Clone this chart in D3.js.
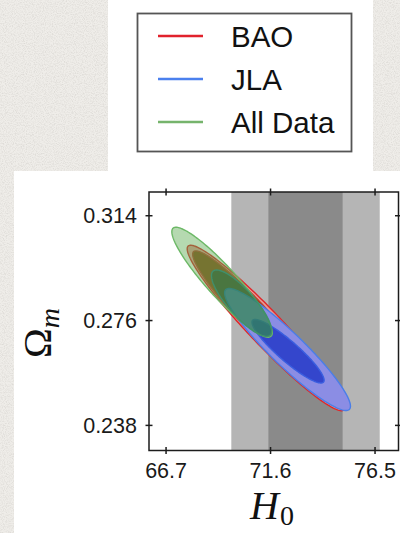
<!DOCTYPE html>
<html>
<head>
<meta charset="utf-8">
<script src="https://cdn.jsdelivr.net/npm/d3@7"></script>
<style>
  html, body { margin: 0; padding: 0; background: #eeece8; }
  svg { display: block; }
</style>
</head>
<body>
<svg id="fig" width="400" height="533"></svg>
<script>
// ---- data -------------------------------------------------------------
// Local H0 measurement drawn as vertical 1σ / 2σ bands
const h0Mean = 73.24;
const h0Sigma = 1.74;

const xTicks = [66.7, 71.6, 76.5];
const yTicks = [0.238, 0.276, 0.314];

const datasets = ["BAO", "JLA", "All Data"];

// Confidence contours in the (H0, Ωm) plane, listed in drawing order.
// Each is an ellipse given by its centre, half-extent along each axis and correlation.
const contourSet   = ["BAO", "BAO", "JLA", "JLA", "All Data", "All Data"];
const contourLevel = ["2σ", "1σ", "2σ", "1σ", "2σ", "1σ"];
const centreH0 = [71.389, 70.718, 72.397, 72.420, 69.326, 70.240];
const centreOm = [0.27331, 0.2785, 0.26551, 0.26489, 0.2899, 0.2823];
const spreadH0 = [3.698, 2.770, 2.950, 1.691, 2.355, 1.412];
const spreadOm = [0.03000, 0.02276, 0.02211, 0.01152, 0.01993, 0.01203];
const corr     = [-0.9566, -0.9467, -0.9290, -0.9118, -0.9179, -0.8298];

// ---- styles -----------------------------------------------------------
const lineColour = { "BAO": "#e1222c", "JLA": "#4b80ee", "All Data": "#76b46c" };
const fillStyle = {
  "BAO":      { "2σ": "#e79b96", "1σ": "#8c4818" },
  "JLA":      { "2σ": "#8b8de4", "1σ": "#3446cc" },
  "All Data": { "2σ": "rgba(90,170,80,0.45)", "1σ": "rgba(30,120,80,0.5)" }
};
const strokeStyle = {
  "BAO":      { "2σ": "#e0262a", "1σ": "#b8402a" },
  "JLA":      { "2σ": "#4a7ee8", "1σ": "#3a5ee0" },
  "All Data": { "2σ": "#6cb866", "1σ": "#3f8f6c" }
};

// ---- canvas -----------------------------------------------------------
const svg = d3.select("#fig");
const defs = svg.append("defs");

// paper grain for the page background
const grain = defs.append("filter").attr("id", "grain")
  .attr("x", 0).attr("y", 0).attr("width", "100%").attr("height", "100%");
grain.append("feTurbulence").attr("type", "fractalNoise")
  .attr("baseFrequency", 0.9).attr("numOctaves", 3).attr("seed", 7);
grain.append("feColorMatrix").attr("type", "matrix")
  .attr("values", "0 0 0 0 0.55  0 0 0 0 0.53  0 0 0 0 0.50  0.9 0 0 0 -0.36");

svg.append("rect").attr("width", 400).attr("height", 533).attr("fill", "#efede9");
svg.append("rect").attr("width", 400).attr("height", 533).attr("filter", "url(#grain)");

// white sheet behind the legend and the figure
svg.append("path")
  .attr("d", "M108,0 H373 V171 H400 V533 H14 V171 H108 Z")
  .attr("fill", "#ffffff");

// ---- legend -----------------------------------------------------------
const legend = svg.append("g");
legend.append("rect")
  .attr("x", 137.5).attr("y", 13.5).attr("width", 214).attr("height", 138)
  .attr("fill", "#ffffff").attr("stroke", "#555555").attr("stroke-width", 1.8);

const legendY = d3.scalePoint().domain(datasets).range([36, 122]);
const items = legend.selectAll("g.item").data(datasets).join("g")
  .attr("class", "item")
  .attr("transform", d => `translate(0,${legendY(d)})`);
items.append("line")
  .attr("x1", 158).attr("x2", 203)
  .attr("stroke", d => lineColour[d]).attr("stroke-width", 2.6);
items.append("text")
  .attr("x", 231).attr("y", 11)
  .attr("font-family", "'Liberation Sans', Arial, sans-serif")
  .attr("font-size", 29.5).attr("fill", "#111")
  .text(d => d);

// ---- plot -------------------------------------------------------------
const x0 = 149, x1 = 398.5, y0 = 192, y1 = 450.5;
const x = d3.scaleLinear().domain([65.90, 77.60]).range([x0, x1]);
const y = d3.scaleLinear().domain([0.2289, 0.3226]).range([y1, y0]);

const plot = svg.append("g");
defs.append("clipPath").attr("id", "plotclip")
  .append("rect").attr("x", x0).attr("y", y0).attr("width", x1 - x0).attr("height", y1 - y0);
const inner = plot.append("g").attr("clip-path", "url(#plotclip)");

// H0 bands
const bands = [
  { lo: h0Mean - 2 * h0Sigma, hi: h0Mean + 2 * h0Sigma, fill: "#b5b5b5" },
  { lo: h0Mean - h0Sigma,     hi: h0Mean + h0Sigma,     fill: "#8a8a8a" }
];
inner.selectAll("rect.band").data(bands).join("rect")
  .attr("class", "band")
  .attr("x", d => x(d.lo)).attr("width", d => x(d.hi) - x(d.lo))
  .attr("y", y0).attr("height", y1 - y0)
  .attr("fill", d => d.fill);

// contour ellipses
const steps = d3.range(0, 2 * Math.PI, Math.PI / 90);
const ellipse = i => steps.map(t => {
  const r = corr[i];
  return [
    centreH0[i] + spreadH0[i] * Math.cos(t),
    centreOm[i] + spreadOm[i] * (r * Math.cos(t) + Math.sqrt(1 - r * r) * Math.sin(t))
  ];
});
const contourLine = d3.line().x(d => x(d[0])).y(d => y(d[1])).curve(d3.curveLinearClosed);

inner.selectAll("path.contour").data(d3.range(contourSet.length)).join("path")
  .attr("class", "contour")
  .attr("d", i => contourLine(ellipse(i)))
  .attr("fill", i => fillStyle[contourSet[i]][contourLevel[i]])
  .attr("stroke", i => strokeStyle[contourSet[i]][contourLevel[i]])
  .attr("stroke-width", 1.4);

// frame
plot.append("rect")
  .attr("x", x0).attr("y", y0).attr("width", x1 - x0).attr("height", y1 - y0)
  .attr("fill", "none").attr("stroke", "#1c1c1c").attr("stroke-width", 1.5);

// ticks crossing the frame on all four sides
const tickLen = 3.5;
plot.selectAll("line.xt").data(xTicks.flatMap(v => [[v, y1], [v, y0]])).join("line")
  .attr("x1", d => x(d[0])).attr("x2", d => x(d[0]))
  .attr("y1", d => d[1] - tickLen).attr("y2", d => d[1] + tickLen)
  .attr("stroke", "#1c1c1c").attr("stroke-width", 1.5);
plot.selectAll("line.yt").data(yTicks.flatMap(v => [[v, x0], [v, x1]])).join("line")
  .attr("y1", d => y(d[0])).attr("y2", d => y(d[0]))
  .attr("x1", d => d[1] - tickLen).attr("x2", d => d[1] + tickLen)
  .attr("stroke", "#1c1c1c").attr("stroke-width", 1.5);

// tick labels
const labelFont = "'Liberation Sans', Arial, sans-serif";
plot.selectAll("text.xl").data(xTicks).join("text")
  .attr("x", d => x(d)).attr("y", 478)
  .attr("text-anchor", "middle")
  .attr("font-family", labelFont).attr("font-size", 21.5).attr("fill", "#1a1a1a")
  .text(d => d3.format(".1f")(d));
plot.selectAll("text.yl").data(yTicks).join("text")
  .attr("x", 137).attr("y", d => y(d)).attr("dy", "0.36em")
  .attr("text-anchor", "end")
  .attr("font-family", labelFont).attr("font-size", 21.5).attr("fill", "#1a1a1a")
  .text(d => d3.format(".3f")(d));

// axis titles
const mathFont = "'Liberation Serif', 'DejaVu Serif', serif";
const xt = plot.append("text")
  .attr("x", 250).attr("y", 518.5)
  .attr("font-family", mathFont).attr("fill", "#111");
xt.append("tspan").attr("font-style", "italic").attr("font-size", 40).text("H");
xt.append("tspan").attr("font-size", 28).attr("dy", 6).attr("dx", 1).text("0");

const yt = plot.append("text")
  .attr("transform", "translate(51,358) rotate(-90)")
  .attr("font-family", mathFont).attr("fill", "#111");
yt.append("tspan").attr("font-size", 40).text("Ω");
yt.append("tspan").attr("font-style", "italic").attr("font-size", 28).attr("dy", 8).text("m");
</script>
</body>
</html>
